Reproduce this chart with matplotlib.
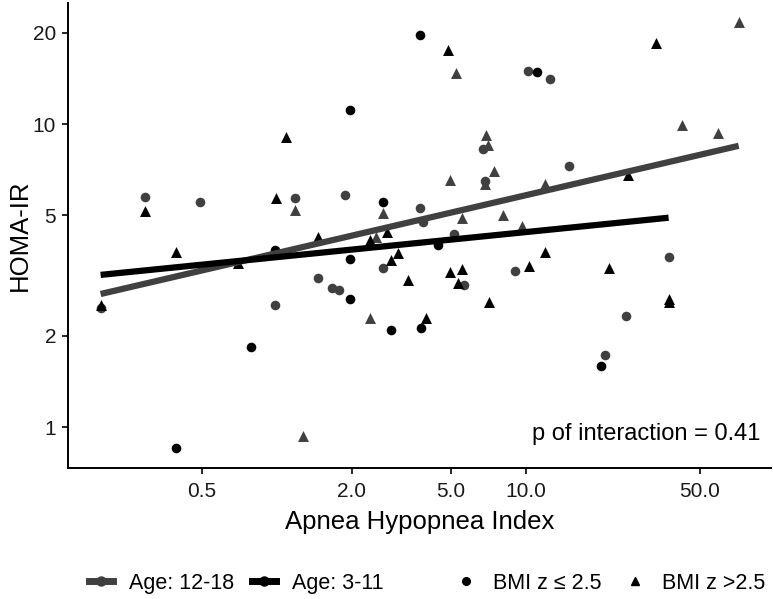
import numpy as np
import matplotlib
matplotlib.use('Agg')
import matplotlib.pyplot as plt
from matplotlib.lines import Line2D
from matplotlib.ticker import FixedLocator, NullLocator

plt.rcParams['font.family'] = ['Liberation Sans', 'DejaVu Sans']

# =============================================================================
#               DATOS
# =============================================================================

# Age 12-18, BMI z <= 2.5 (circulos grises)
x_old_lo = [0.196, 0.295, 0.491, 0.98, 1.18, 1.47, 1.66, 1.77, 1.88, 2.67, 3.75, 3.86,
            5.14, 5.64, 6.72, 6.84, 9.03, 10.19, 12.5, 14.9, 20.9, 25.4, 37.5]
y_old_lo = [2.48, 5.75, 5.54, 2.53, 5.71, 3.11, 2.88, 2.84, 5.84, 3.36, 5.29, 4.76,
            4.34, 2.95, 8.29, 6.50, 3.28, 15.0, 14.1, 7.29, 1.73, 2.33, 3.65]

# Age 12-18, BMI z > 2.5 (triangulos grises)
x_old_hi = [1.18, 1.28, 2.36, 2.50, 2.67, 4.95, 5.24, 5.53, 6.84, 6.91, 7.04, 7.44,
            8.08, 9.64, 12.0, 42.3, 59.0, 71.7]
y_old_hi = [5.21, 0.936, 2.29, 4.25, 5.10, 6.55, 14.8, 4.91, 6.35, 9.22, 8.55, 7.01,
            5.02, 4.62, 6.35, 9.95, 9.36, 21.8]

# Age 3-11, BMI z <= 2.5 (circulos negros)
x_young_lo = [0.393, 0.786, 0.98, 1.96, 1.96, 1.96, 2.67, 2.87, 3.75, 3.79, 4.43,
              11.07, 20.0]
y_young_lo = [0.855, 1.84, 3.85, 11.15, 3.59, 2.65, 5.54, 2.09, 19.7, 2.13, 4.00,
              14.9, 1.59]

# Age 3-11, BMI z > 2.5 (triangulos negros)
x_young_hi = [0.196, 0.295, 0.393, 0.697, 0.99, 1.087, 1.47, 2.36, 2.77, 2.87, 3.06,
              3.36, 3.97, 4.86, 4.95, 5.33, 5.53, 7.10, 10.28, 12.0, 21.7, 25.7,
              33.3, 37.5, 37.5]
y_young_hi = [2.53, 5.17, 3.79, 3.49, 5.71, 9.08, 4.25, 4.15, 4.41, 3.57, 3.76,
              3.06, 2.29, 17.5, 3.25, 2.99, 3.33, 2.59, 3.41, 3.79, 3.36, 6.80,
              18.5, 2.65, 2.59]

# Rectas de ajuste (extremos)
fit_old_x = [0.196, 71.7]
fit_old_y = [2.75, 8.48]
fit_young_x = [0.196, 37.5]
fit_young_y = [3.18, 4.91]

x_ticks = [0.5, 2.0, 5.0, 10.0, 50.0]
x_ticklabels = ['0.5', '2.0', '5.0', '10.0', '50.0']
y_ticks = [1, 2, 5, 10, 20]
y_ticklabels = ['1', '2', '5', '10', '20']

gris = '#404040'
negro = '#000000'

# =============================================================================
#                              PLOTEO
# =============================================================================

fig = plt.figure(figsize=(7.73, 5.99), dpi=100)
ax = fig.add_axes([0.088, 0.219, 0.909, 0.776])

ax.scatter(x_old_lo, y_old_lo, s=48, marker='o', color=gris, linewidths=0, zorder=2)
ax.scatter(x_old_hi, y_old_hi, s=62, marker='^', color=gris, linewidths=0, zorder=2)
ax.scatter(x_young_lo, y_young_lo, s=48, marker='o', color=negro, linewidths=0, zorder=2)
ax.scatter(x_young_hi, y_young_hi, s=62, marker='^', color=negro, linewidths=0, zorder=2)

ax.plot(fit_old_x, fit_old_y, color=gris, lw=4.5, solid_capstyle='butt', zorder=3)
ax.plot(fit_young_x, fit_young_y, color=negro, lw=4.5, solid_capstyle='butt', zorder=4)

ax.set_xscale('log')
ax.set_yscale('log')
ax.set_xlim(0.145, 96.4)
ax.set_ylim(0.734, 25.1)

ax.xaxis.set_major_locator(FixedLocator(x_ticks))
ax.xaxis.set_minor_locator(NullLocator())
ax.set_xticklabels(x_ticklabels)
ax.yaxis.set_major_locator(FixedLocator(y_ticks))
ax.yaxis.set_minor_locator(NullLocator())
ax.set_yticklabels(y_ticklabels)

for s in ['top', 'right']:
    ax.spines[s].set_visible(False)
for s in ['left', 'bottom']:
    ax.spines[s].set_linewidth(1.4)
ax.tick_params(axis='both', length=4, width=1.2, labelsize=15, colors='black',
               labelcolor='#1a1a1a', pad=4.5)
ax.tick_params(axis='x', pad=6)

ax.set_xlabel('Apnea Hypopnea Index', fontsize=18.5, labelpad=7)
ax.set_ylabel('HOMA-IR', fontsize=18.5, labelpad=0.5)

ax.text(0.986, 0.05, 'p of interaction = 0.41', transform=ax.transAxes,
        ha='right', va='bottom', fontsize=17)

# leyendas
h_age = [Line2D([], [], color=gris, lw=5, marker='o', markersize=6.5),
         Line2D([], [], color=negro, lw=5, marker='o', markersize=6.5)]
leg1 = fig.legend(h_age, ['Age: 12-18', 'Age: 3-11'], loc='center left',
                  bbox_to_anchor=(0.115, 0.026), ncol=2, frameon=False, borderpad=0,
                  borderaxespad=0, fontsize=15.5, handlelength=1.1, columnspacing=0.85,
                  handletextpad=0.75)

h_bmi = [Line2D([], [], color=negro, lw=0, marker='o', markersize=5.5),
         Line2D([], [], color=negro, lw=0, marker='^', markersize=6)]
leg2 = fig.legend(h_bmi, ['BMI z ≤ 2.5', 'BMI z >2.5'], loc='center left',
                  bbox_to_anchor=(0.589, 0.026), ncol=2, frameon=False, borderpad=0,
                  borderaxespad=0, fontsize=15.5, handlelength=1.0, columnspacing=1.05,
                  handletextpad=0.75)

fig.savefig('out.png', dpi=100)
